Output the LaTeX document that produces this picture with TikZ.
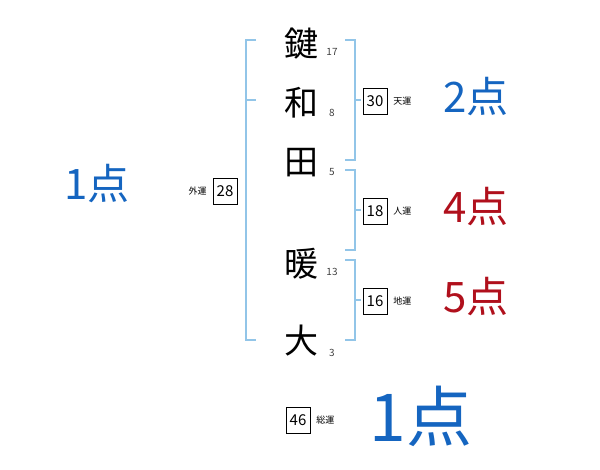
\documentclass[tikz,border=0pt]{standalone}
\usepackage{fontspec}
\newfontfamily\jp{Noto Sans CJK JP}
\usepackage{tikz}
\usetikzlibrary{positioning}
\definecolor{brk}{HTML}{92C5E8}
\definecolor{goodblue}{HTML}{1565C0}
\definecolor{badred}{HTML}{B0101C}

\begin{document}
\begin{tikzpicture}[x=1pt, y=-1pt, every node/.style={font=\jp, inner sep=0pt},
  kanji/.style={font=\jp\fontsize{34}{34}\selectfont},
  strk/.style={font=\jp\fontsize{10}{10}\selectfont, text=black!75},
  unbox/.style={draw, minimum width=24pt, minimum height=26pt, font=\jp\fontsize{15}{15}\selectfont},
  unlbl/.style={font=\jp\fontsize{9}{9}\selectfont},
  score/.style={font=\jp\fontsize{42}{42}\selectfont},
  br/.style={draw=brk, line width=1.2pt}]
  \useasboundingbox (0,0) rectangle (600,470);
  % name
  \node[kanji] (k1) at (301,44) {鍵};
  \node[kanji] (k2) at (301,103) {和};
  \node[kanji] (k3) at (301,163) {田};
  \node[kanji] (k4) at (301,264) {暖};
  \node[kanji] (k5) at (301,341) {大};
  \node[strk] (s1) at (332,52) {17};
  \node[strk] (s2) at (332,113) {8};
  \node[strk] (s3) at (332,172) {5};
  \node[strk] (s4) at (332,272) {13};
  \node[strk] (s5) at (332,353) {3};
  % brackets
  \draw[br] (256,40) -- (246,40) -- (246,340) -- (256,340);
  \draw[br] (246,100) -- (256,100);
  \draw[br] (345,40) -- (355,40) -- (355,160) -- (345,160);
  \draw[br] (355,100) -- (361,100);
  \draw[br] (345,170) -- (355,170) -- (355,250) -- (345,250);
  \draw[br] (355,210) -- (361,210);
  \draw[br] (345,260) -- (355,260) -- (355,340) -- (345,340);
  \draw[br] (355,300) -- (361,300);
  % fortunes
  \node[unbox] (ten) at (375,101) {30};
  \node[unlbl, right=6pt of ten] (tenl) {天運};
  \node[score, text=goodblue] (tens) at (476,97) {2点};
  \node[unbox] (jin) at (375,211) {18};
  \node[unlbl, right=6pt of jin] (jinl) {人運};
  \node[score, text=badred] (jins) at (476,207) {4点};
  \node[unbox] (chi) at (375,301) {16};
  \node[unlbl, right=6pt of chi] (chil) {地運};
  \node[score, text=badred] (chis) at (476,297) {5点};
  \node[unbox] (gai) at (225,191) {28};
  \node[unlbl, left=6pt of gai] (gail) {外運};
  \node[score, text=goodblue] (gais) at (97,184) {1点};
  \node[unbox] (sou) at (298,420) {46};
  \node[unlbl, right=6pt of sou] (soul) {総運};
  \node[score, text=goodblue, font=\jp\fontsize{66}{66}\selectfont] (sous) at (421,416) {1点};
\end{tikzpicture}
\end{document}
